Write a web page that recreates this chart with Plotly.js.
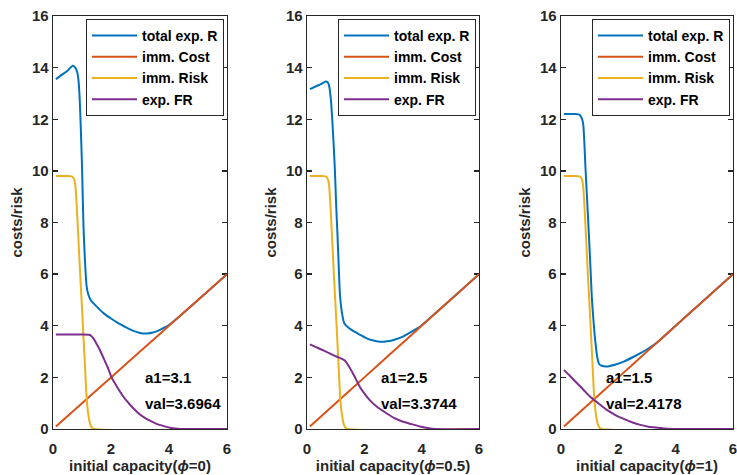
<!DOCTYPE html>
<html>
<head>
<meta charset="utf-8">
<script src="https://cdn.plot.ly/plotly-3.0.1.min.js"></script>
<style>html,body{margin:0;padding:0;background:#fff;}#chart{width:737px;height:475px;}</style>
</head>
<body>
<div id="chart"></div>
<script>
// ---------- data ----------
const seriesNames = ['total exp. R', 'imm. Cost', 'imm. Risk', 'exp. FR'];
const phiLabels = ['0', '0.5', '1'];
const xTicks = [0, 2, 4, 6];
const yTicks = [0, 2, 4, 6, 8, 10, 12, 14, 16];

// immediate cost (same in every panel)
const costX = [0.1, 1, 2, 3, 4, 5, 6];
const costY = [0.1, 1, 2, 3, 4, 5, 6];

// immediate risk (same in every panel)
const riskX = [0.1, 0.4, 0.65, 0.72, 0.77, 0.82, 0.87, 0.91, 0.96, 1.0, 1.05, 1.1, 1.16, 1.22, 1.28, 1.33, 1.4, 6.0];
const riskY = [9.8, 9.8, 9.79, 9.7, 9.45, 8.6, 7.5, 6.6, 5.5, 4.7, 3.6, 2.5, 1.2, 0.55, 0.2, 0.07, 0.0, 0.0];

// panel 1 (phi = 0)
const totX1 = [0.1, 0.3, 0.5, 0.68, 0.78, 0.84, 0.88, 0.92, 0.96, 1.0, 1.05, 1.1, 1.16, 1.22, 1.3, 1.5, 1.75, 2.0, 2.25, 2.5, 2.77, 3.0, 3.1, 3.23, 3.45, 3.65, 3.8, 4.0, 4.5, 5.0, 6.0];
const totY1 = [13.55, 13.72, 13.88, 14.07, 13.98, 13.8, 13.5, 12.8, 11.6, 10.2, 7.9, 6.56, 5.53, 5.2, 5.0, 4.75, 4.48, 4.28, 4.1, 3.95, 3.8, 3.72, 3.7, 3.7, 3.74, 3.82, 3.91, 4.03, 4.5, 5.0, 6.0];
const frX1 = [0.1, 0.6, 1.0, 1.25, 1.3, 1.4, 1.5, 1.6, 1.73, 1.9, 2.02, 2.2, 2.43, 2.65, 2.89, 3.1, 3.34, 3.55, 3.8, 4.03, 4.3, 4.5, 6.0];
const frY1 = [3.66, 3.66, 3.66, 3.65, 3.62, 3.5, 3.3, 3.1, 2.78, 2.35, 2.0, 1.65, 1.25, 0.95, 0.67, 0.48, 0.32, 0.21, 0.12, 0.05, 0.01, 0.0, 0.0];

// panel 2 (phi = 0.5)
const totX2 = [0.1, 0.3, 0.5, 0.65, 0.73, 0.78, 0.83, 0.88, 0.93, 0.97, 1.02, 1.06, 1.1, 1.15, 1.22, 1.3, 1.45, 1.65, 1.85, 2.1, 2.35, 2.55, 2.8, 3.05, 3.35, 3.65, 3.95, 4.5, 6.0];
const totY2 = [13.17, 13.27, 13.37, 13.46, 13.42, 13.25, 12.8, 12.0, 11.0, 10.1, 8.6, 7.6, 6.5, 5.2, 4.5, 4.1, 3.92, 3.77, 3.65, 3.5, 3.42, 3.38, 3.4, 3.46, 3.58, 3.77, 3.97, 4.5, 6.0];
const frX2 = [0.1, 0.3, 0.5, 0.75, 1.02, 1.2, 1.31, 1.42, 1.6, 1.84, 2.0, 2.18, 2.45, 2.77, 3.05, 3.35, 3.65, 3.93, 4.2, 4.5, 6.0];
const frY2 = [3.28, 3.18, 3.08, 2.95, 2.81, 2.73, 2.66, 2.5, 2.16, 1.64, 1.38, 1.13, 0.85, 0.61, 0.42, 0.28, 0.19, 0.1, 0.04, 0.0, 0.0];

// panel 3 (phi = 1)
const totX3 = [0.1, 0.4, 0.62, 0.7, 0.77, 0.81, 0.85, 0.91, 0.97, 1.03, 1.08, 1.14, 1.19, 1.27, 1.33, 1.4, 1.6, 1.9, 2.19, 2.5, 2.77, 3.05, 3.35, 4.0, 6.0];
const totY3 = [12.2, 12.2, 12.19, 12.1, 11.85, 11.2, 10.2, 8.9, 7.6, 6.2, 5.0, 4.1, 3.46, 2.75, 2.52, 2.46, 2.42, 2.5, 2.61, 2.78, 2.94, 3.12, 3.35, 4.0, 6.0];
const frX3 = [0.1, 0.3, 0.56, 0.8, 1.02, 1.3, 1.6, 1.9, 2.19, 2.5, 2.77, 3.05, 3.35, 3.7, 4.0, 6.0];
const frY3 = [2.29, 2.07, 1.77, 1.5, 1.25, 1.0, 0.74, 0.54, 0.39, 0.25, 0.16, 0.09, 0.05, 0.01, 0.0, 0.0];

// optimum annotations
const a1Vals = [3.1, 2.5, 1.5];
const optVals = ['3.6964', '3.3744', '2.4178'];
const a1Labels = ['3.1', '2.5', '1.5'];

// ---------- styling ----------
const colors = ['#0072BD', '#D95319', '#EDB120', '#7E2F8E'];
const FAM = 'Liberation Sans, Arial, sans-serif';
const INK = '#262626';
const W = 737, H = 475;
const xDomPx = [[53, 227], [307, 479], [561, 733]];
const yDom = [46 / H, 459 / H];

const panels = [
  {tx: totX1, ty: totY1, fx: frX1, fy: frY1},
  {tx: totX2, ty: totY2, fx: frX2, fy: frY2},
  {tx: totX3, ty: totY3, fx: frX3, fy: frY3}
];

const traces = [];
const layout = {
  width: W, height: H,
  margin: {l: 0, r: 0, t: 0, b: 0},
  paper_bgcolor: '#fff', plot_bgcolor: '#fff',
  font: {family: FAM, size: 15, color: INK, weight: 'bold'},
  annotations: [],
  showlegend: true
};
const tickFont = {family: FAM, size: 15, color: INK, weight: 'bold'};

panels.forEach((p, i) => {
  const n = i === 0 ? '' : String(i + 1);
  const xa = 'x' + n, ya = 'y' + n;
  const lg = 'legend' + n;
  const sets = [[p.tx, p.ty], [costX, costY], [riskX, riskY], [p.fx, p.fy]];
  sets.forEach((s, k) => {
    traces.push({
      type: 'scatter', mode: 'lines', x: s[0], y: s[1],
      name: seriesNames[k], xaxis: xa, yaxis: ya, legend: lg,
      line: {color: colors[k], width: 2, shape: 'spline', smoothing: 0.6},
      hoverinfo: 'skip'
    });
  });
  // base x axis: frame line + labels pushed a bit lower (invisible outside ticks)
  layout['xaxis' + n] = {
    domain: [xDomPx[i][0] / W, xDomPx[i][1] / W], range: [0, 6],
    tickvals: xTicks, anchor: ya,
    showline: true, linecolor: INK, linewidth: 1.3, mirror: true,
    ticks: 'outside', ticklen: 6, tickcolor: 'rgba(0,0,0,0)',
    showgrid: false, zeroline: false, layer: 'below traces',
    ticklabeloverflow: 'allow', tickfont: tickFont,
    title: {text: 'initial capacity(<i>ϕ</i>=' + phiLabels[i] + ')', font: tickFont, standoff: 3}
  };
  // overlay x axis carrying the inside tick marks (bottom and top)
  const ovN = String(i + 4);
  layout['xaxis' + ovN] = {
    overlaying: xa, anchor: ya, range: [0, 6], tickvals: xTicks, side: 'bottom',
    showline: false, mirror: 'ticks', ticks: 'inside', ticklen: 5, tickwidth: 1.3, tickcolor: INK,
    showticklabels: false, showgrid: false, zeroline: false, layer: 'below traces'
  };
  layout['yaxis' + n] = {
    domain: yDom, range: [0, 16], tickvals: yTicks, anchor: xa,
    showline: true, linecolor: INK, linewidth: 1.3, mirror: 'ticks',
    ticks: 'inside', ticklen: 5, tickwidth: 1.3, tickcolor: INK,
    showgrid: false, zeroline: false, layer: 'below traces',
    ticklabeloverflow: 'allow', tickfont: tickFont,
    title: {text: 'costs/risk', font: tickFont, standoff: 5}
  };
  layout[lg] = {
    x: (xDomPx[i][1] - 3) / W, y: 1 - 19 / H, xanchor: 'right', yanchor: 'top',
    bgcolor: '#fff', bordercolor: INK, borderwidth: 1,
    font: {family: FAM, size: 14, color: '#000', weight: 'bold'},
    itemwidth: 45, tracegroupgap: 0
  };
  layout.annotations.push({
    xref: xa, yref: ya, x: a1Vals[i], y: 2, xanchor: 'left', yanchor: 'middle',
    text: 'a1=' + a1Labels[i], showarrow: false,
    font: {family: FAM, size: 15, color: '#000', weight: 'bold'}
  });
  layout.annotations.push({
    xref: xa, yref: ya, x: a1Vals[i], y: 1, xanchor: 'left', yanchor: 'middle',
    text: 'val=' + optVals[i], showarrow: false,
    font: {family: FAM, size: 15, color: '#000', weight: 'bold'}
  });
});

Plotly.newPlot('chart', traces, layout, {staticPlot: true, displayModeBar: false});
</script>
</body>
</html>
